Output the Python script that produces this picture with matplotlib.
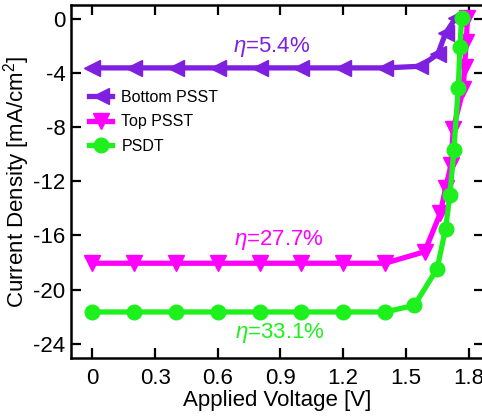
import numpy as np
import matplotlib.pyplot as plt

plt.rcParams['font.family'] = ['Liberation Sans', 'DejaVu Sans']
plt.rcParams['mathtext.fontset'] = 'custom'
plt.rcParams['mathtext.it'] = 'Liberation Sans:italic'
plt.rcParams['mathtext.rm'] = 'Liberation Sans'
plt.rcParams['axes.unicode_minus'] = False

# Bottom PSST (purple, left triangles)
v_bot = [0, 0.2, 0.4, 0.6, 0.8, 1.0, 1.2, 1.4, 1.57, 1.653, 1.69, 1.738]
j_bot = [-3.62, -3.62, -3.62, -3.62, -3.62, -3.62, -3.62, -3.62, -3.5, -2.6, -1.06, 0.05]

# Top PSST (magenta, down triangles)
v_top = [0, 0.2, 0.4, 0.6, 0.8, 1.0, 1.2, 1.4, 1.59, 1.665, 1.69, 1.716, 1.727,
         1.775, 1.781, 1.789, 1.795]
j_top = [-18.05, -18.05, -18.05, -18.05, -18.05, -18.05, -18.05, -18.05, -17.2,
         -14.35, -12.5, -10.8, -8.1, -5.2, -3.55, -1.7, 0.05]

# PSDT (green, circles)
v_psdt = [0, 0.2, 0.4, 0.6, 0.8, 1.0, 1.2, 1.4, 1.541, 1.65, 1.69, 1.711, 1.73,
          1.751, 1.759, 1.767]
j_psdt = [-21.65, -21.65, -21.65, -21.65, -21.65, -21.65, -21.65, -21.65, -21.16,
          -18.45, -15.5, -13.0, -9.7, -5.07, -2.04, 0.05]

labels = ['Bottom PSST', 'Top PSST', 'PSDT']
effs = [r'$\eta$=5.4%', r'$\eta$=27.7%', r'$\eta$=33.1%']
eff_pos = [(0.86, -2.1), (0.89, -16.3), (0.895, -23.2)]
colors = ['#7f1fe0', '#ff00ff', '#1ef01e']

fig = plt.figure(figsize=(4.82, 4.18), dpi=100)
ax = fig.add_axes([0.147, 0.1435, 0.858, 0.845])

ax.plot(v_bot, j_bot, color=colors[0], lw=3.8, marker='<', ms=11, label=labels[0])
ax.plot(v_top, j_top, color=colors[1], lw=3.8, marker='v', ms=11, label=labels[1])
ax.plot(v_psdt, j_psdt, color=colors[2], lw=3.8, marker='o', ms=10.5, label=labels[2])

for txt, (x, y), c in zip(effs, eff_pos, colors):
    ax.text(x, y, txt, color=c, fontsize=16, ha='center', va='center')

ax.set_xlim(-0.103, 1.876)
ax.set_ylim(-25.05, 1.04)
ax.set_xticks([0, 0.3, 0.6, 0.9, 1.2, 1.5, 1.8])
ax.set_xticklabels(['0', '0.3', '0.6', '0.9', '1.2', '1.5', '1.8'])
ax.set_yticks([0, -4, -8, -12, -16, -20, -24])
ax.tick_params(direction='in', length=7, width=1.6, labelsize=16,
               top=True, right=True, pad=7)
ax.tick_params(axis='y', pad=4)
for s in ax.spines.values():
    s.set_linewidth(1.8)

ax.set_xlabel('Applied Voltage [V]', fontsize=16, labelpad=1)
ax.set_ylabel('Current Density [mA/cm$^2$]', fontsize=16, labelpad=1)

ax.legend(loc='upper left', bbox_to_anchor=(0.01, 0.80), frameon=False,
          fontsize=11.5, handlelength=1.4, handletextpad=0.6, labelspacing=0.6,
          markerscale=1.0)

fig.savefig('out.png', dpi=100)
